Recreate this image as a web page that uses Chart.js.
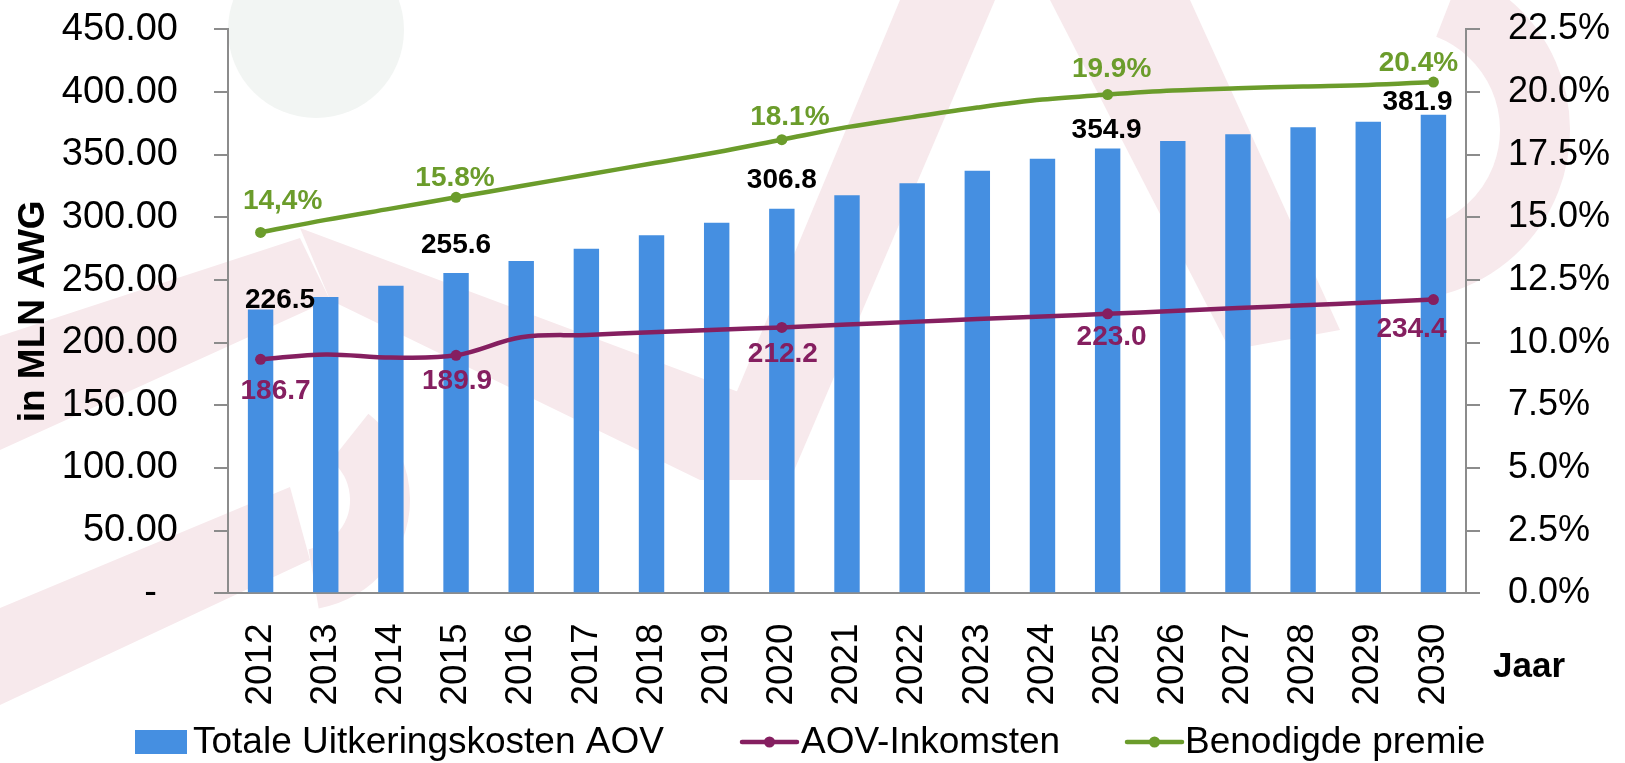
<!DOCTYPE html>
<html><head><meta charset="utf-8">
<script src="https://cdn.jsdelivr.net/npm/chart.js@4/dist/chart.umd.min.js"></script>
<style>html,body{margin:0;padding:0;background:#fff;overflow:hidden}#wrap{width:1625px;height:763px;position:relative}</style>
</head><body><div id="wrap"><canvas id="c" width="1625" height="763"></canvas></div>
<script>
const years = ['2012','2013','2014','2015','2016','2017','2018','2019','2020','2021','2022','2023','2024','2025','2026','2027','2028','2029','2030'];
const kosten = [226.5,236.5,245.5,255.6,265.2,275.0,285.7,295.8,306.8,317.6,327.2,337.2,346.8,354.9,361.0,366.3,371.9,376.4,381.9];
const inkomsten = [186.7,190.6,188.1,189.9,204.3,206.2,208.3,210.3,212.2,214.5,216.6,218.8,220.9,223.0,225.3,227.6,229.8,232.1,234.4];
const premie = [14.4,14.9,15.35,15.8,16.25,16.7,17.15,17.6,18.1,18.6,19.0,19.38,19.7,19.9,20.06,20.15,20.22,20.28,20.4];
const labeledYears = ['2012','2015','2020','2025','2030'];
const premieLabelText = ['14,4%','15.8%','18.1%','19.9%','20.4%'];
const seriesNames = ['Totale Uitkeringskosten AOV','AOV-Inkomsten','Benodigde premie'];
const yTitle = 'in MLN AWG';
const xTitle = 'Jaar';

const BLUE = '#458fe1', PURPLE = '#851f60', GREEN = '#6b9c2b', AXIS = '#8c8c8c';
const FONT = "'Liberation Sans', Arial, sans-serif";

// label offsets (px) relative to the mark, per labelled year
const labelOffsets = [
  [[19.5,-12],[0,-30],[0,-31],[-1,-21],[-16,-15]],
  [[15,30],[1,24],[1,25],[4,21],[-22,27]],
  [[22,-33],[-1,-21],[8,-25],[4,-27.5],[-15,-21]]
];

// faint background logo watermark (decoration only)
const watermark = {
  id: 'watermark',
  beforeDraw(chart) {
    const ctx = chart.ctx;
    ctx.save();
    ctx.fillStyle = '#ffffff';
    ctx.fillRect(0, 0, chart.width, chart.height);
    ctx.fillStyle = '#f2f5f3';
    ctx.beginPath();
    ctx.arc(316, 30, 88, 0, Math.PI * 2);
    ctx.fill();
    const PINK = '#f7e9ec';
    ctx.fillStyle = PINK;
    const polys = [
      [[0,336],[300,238],[330,300],[0,450]],
      [[0,608],[290,487],[310,560],[0,705]],
      [[300,228],[330,300],[700,480],[790,480],[760,400]],
      [[900,0],[995,0],[790,480],[700,480]],
      [[1050,0],[1190,0],[1340,330],[1230,350]]
    ];
    polys.forEach(p => {
      ctx.beginPath();
      ctx.moveTo(p[0][0], p[0][1]);
      for (let i = 1; i < p.length; i++) ctx.lineTo(p[i][0], p[i][1]);
      ctx.closePath();
      ctx.fill();
    });
    ctx.strokeStyle = PINK;
    ctx.lineWidth = 70;
    ctx.beginPath();
    ctx.arc(1400, 130, 135, -1.2, 1.3);
    ctx.stroke();
    ctx.beginPath();
    ctx.arc(300, 500, 80, -0.9, 1.4);
    ctx.lineWidth = 60;
    ctx.stroke();
    ctx.restore();
  }
};

const valueLabels = {
  id: 'valueLabels',
  afterDatasetsDraw(chart) {
    const ctx = chart.ctx;
    const colors = ['#000000', PURPLE, GREEN];
    const size = 28;
    ctx.save();
    ctx.font = 'bold ' + size + 'px ' + FONT;
    ctx.textAlign = 'center';
    ctx.textBaseline = 'alphabetic';
    for (let d = 0; d < 3; d++) {
      const meta = chart.getDatasetMeta(d);
      const data = chart.data.datasets[d].data;
      labeledYears.forEach((yr, k) => {
        const idx = years.indexOf(yr);
        const el = meta.data[idx];
        const txt = d === 2 ? premieLabelText[k] : data[idx].toFixed(1);
        const off = labelOffsets[d][k];
        ctx.fillStyle = colors[d];
        ctx.fillText(txt, el.x + off[0], el.y + off[1] + 0.36 * size);
      });
    }
    ctx.restore();
  }
};

const legendAndTitle = {
  id: 'legendAndTitle',
  afterDraw(chart) {
    const ctx = chart.ctx;
    ctx.save();
    ctx.font = 'bold 35px ' + FONT;
    ctx.fillStyle = '#000';
    ctx.textAlign = 'left';
    ctx.textBaseline = 'alphabetic';
    ctx.fillText(xTitle, 1493, 677);
    const base = 753, cy = 742;
    ctx.font = '37px ' + FONT;
    const items = [
      {type: 'bar', color: BLUE, x0: 135, x1: 187, tx: 193},
      {type: 'line', color: PURPLE, x0: 742, x1: 797, tx: 801},
      {type: 'line', color: GREEN, x0: 1127, x1: 1182, tx: 1185}
    ];
    items.forEach((it, i) => {
      ctx.fillStyle = it.color;
      if (it.type === 'bar') {
        ctx.fillRect(it.x0, cy - 12, it.x1 - it.x0, 24);
      } else {
        ctx.strokeStyle = it.color;
        ctx.lineWidth = 4.5;
        ctx.lineCap = 'round';
        ctx.beginPath();
        ctx.moveTo(it.x0, cy);
        ctx.lineTo(it.x1, cy);
        ctx.stroke();
        ctx.beginPath();
        ctx.arc((it.x0 + it.x1) / 2, cy, 5.5, 0, Math.PI * 2);
        ctx.fill();
      }
      ctx.fillStyle = '#000';
      ctx.fillText(seriesNames[i], it.tx, base);
    });
    ctx.restore();
  }
};

const pointR = ctx => labeledYears.includes(years[ctx.dataIndex]) ? 5.5 : 0;
const noPad = s => { s.paddingTop = 0; s.paddingBottom = 0; };

new Chart(document.getElementById('c'), {
  data: {
    labels: years,
    datasets: [
      {type: 'bar', label: seriesNames[0], data: kosten, backgroundColor: BLUE, yAxisID: 'y', order: 3,
       barPercentage: 0.39, categoryPercentage: 1.0},
      {type: 'line', label: seriesNames[1], data: inkomsten, borderColor: PURPLE, backgroundColor: PURPLE,
       borderWidth: 4.5, tension: 0.35, pointRadius: pointR, pointHoverRadius: pointR, pointBorderWidth: 0,
       yAxisID: 'y', order: 2},
      {type: 'line', label: seriesNames[2], data: premie, borderColor: GREEN, backgroundColor: GREEN,
       borderWidth: 4.5, tension: 0.35, pointRadius: pointR, pointHoverRadius: pointR, pointBorderWidth: 0,
       yAxisID: 'y2', order: 1}
    ]
  },
  options: {
    responsive: false,
    animation: false,
    devicePixelRatio: 1,
    layout: {padding: {top: 29.4, left: 0, right: 0, bottom: 0}},
    plugins: {legend: {display: false}, tooltip: {enabled: false}},
    scales: {
      x: {
        afterFit: s => { s.height = 169.7; s.paddingLeft = 0; s.paddingRight = 0; },
        grid: {display: true, drawOnChartArea: false, drawTicks: false},
        border: {display: true, color: AXIS, width: 2},
        ticks: {minRotation: 90, maxRotation: 90, padding: 30, color: '#000', font: {family: FONT, size: 37}}
      },
      y: {
        position: 'left', min: 0, max: 450,
        afterFit: s => { s.width = 228; noPad(s); },
        grid: {drawOnChartArea: false, drawTicks: true, tickLength: 14, color: AXIS, lineWidth: 2},
        border: {display: true, color: AXIS, width: 2},
        ticks: {stepSize: 50, padding: 36, color: '#000', font: {family: FONT, size: 38},
          callback: v => v === 0 ? '-  ' : v.toFixed(2)},
        title: {display: true, text: yTitle, color: '#000', font: {family: FONT, size: 37, weight: 'bold'}, padding: {top: 12, bottom: 0}}
      },
      y2: {
        position: 'right', min: 0, max: 22.5,
        afterFit: s => { s.width = 159; noPad(s); },
        grid: {drawOnChartArea: false, drawTicks: true, tickLength: 14, color: AXIS, lineWidth: 2},
        border: {display: true, color: AXIS, width: 2},
        ticks: {stepSize: 2.5, padding: 28, color: '#000', font: {family: FONT, size: 36},
          callback: v => v.toFixed(1) + '%'}
      }
    }
  },
  plugins: [watermark, valueLabels, legendAndTitle]
});
</script></body></html>
